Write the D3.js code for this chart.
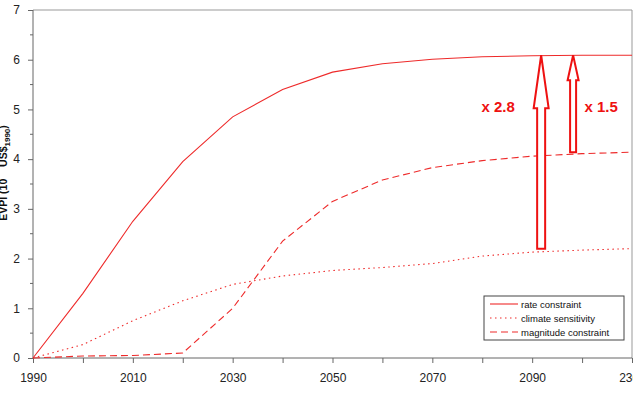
<!DOCTYPE html>
<html>
<head>
<meta charset="utf-8">
<script src="https://cdn.jsdelivr.net/npm/d3@7"></script>
<style>
  body { margin: 0; background: #fff; }
  svg { font-family: "Liberation Sans", Arial, sans-serif; }
</style>
</head>
<body>
<svg id="chart" width="633" height="395"></svg>
<script>
// categories on the x axis (note the jump to 2300 at the end)
const years = [1990, 2000, 2010, 2020, 2030, 2040, 2050, 2060, 2070, 2080, 2090, 2100, 2300];
const yearLabels = [1990, 2010, 2030, 2050, 2070, 2090, 2300];

const rateConstraint = [0, 1.3, 2.75, 3.95, 4.85, 5.4, 5.75, 5.92, 6.01, 6.06, 6.08, 6.09, 6.09];
const climateSensitivity = [0, 0.27, 0.75, 1.15, 1.48, 1.65, 1.76, 1.82, 1.9, 2.05, 2.13, 2.17, 2.2];
const magnitudeConstraint = [0, 0.04, 0.05, 0.1, 1.0, 2.35, 3.15, 3.58, 3.83, 3.97, 4.06, 4.11, 4.14];

const seriesNames = ["rate constraint", "climate sensitivity", "magnitude constraint"];
const yTicks = [0, 1, 2, 3, 4, 5, 6, 7];

// arrows: [from value, to value, label]
const arrows = [
    {from: 2.2, to: 6.09, label: "x 2.8"},
    {from: 4.14, to: 6.09, label: "x 1.5"}
];

const svg = d3.select("#chart");
const margin = {top: 10, right: 1, bottom: 37, left: 33};
const W = 633, H = 395;
const red = "#ee2a2a";

const x = d3.scalePoint()
    .domain(years)
    .range([margin.left, W - margin.right]);

const y = d3.scaleLinear()
    .domain([0, 7])
    .range([H - margin.bottom, margin.top]);

// plot frame (top and right)
svg.append("path")
    .attr("d", `M${margin.left},${margin.top}H${W - margin.right}V${H - margin.bottom}`)
    .attr("fill", "none")
    .attr("stroke", "#999")
    .attr("stroke-width", 1);

// y axis
const yAxis = svg.append("g")
    .attr("transform", `translate(${margin.left},0)`)
    .call(d3.axisLeft(y).tickValues(yTicks).tickFormat(d3.format("d")).tickSize(5).tickPadding(8));
yAxis.selectAll(".tick line").attr("stroke", "#666");
yAxis.select(".domain").attr("stroke", "#666").attr("d", `M0,${y(0)}V${y(7)}`);
yAxis.selectAll("text").attr("font-size", 12).attr("fill", "#222");

// minor y ticks
svg.append("g").selectAll("line")
    .data(d3.range(0.5, 7, 1))
    .join("line")
    .attr("x1", margin.left - 3).attr("x2", margin.left)
    .attr("y1", d => y(d)).attr("y2", d => y(d))
    .attr("stroke", "#666");

// x axis
const xAxis = svg.append("g")
    .attr("transform", `translate(0,${H - margin.bottom})`)
    .call(d3.axisBottom(x).tickSize(5).tickPadding(10)
        .tickFormat(d => yearLabels.includes(d) ? d : ""));
xAxis.selectAll(".tick line").attr("stroke", "#666");
xAxis.select(".domain").attr("stroke", "#666").attr("d", `M${margin.left},0H${W - margin.right}`);
xAxis.selectAll("text").attr("font-size", 12).attr("fill", "#222");

// y axis title (clipped at the left edge like the original)
svg.append("text")
    .attr("transform", "translate(7,173) rotate(-90)")
    .attr("text-anchor", "middle")
    .attr("font-size", 10.5)
    .attr("font-weight", "bold")
    .attr("fill", "#111")
    .html('EVPI (10<tspan dy="-8" font-size="8">12</tspan><tspan dy="8"> US$</tspan><tspan dy="3" font-size="8">1990</tspan><tspan dy="-3">)</tspan>');

// lines
const line = d3.line()
    .x((d, i) => x(years[i]))
    .y(d => y(d));

const dashes = [null, "1.5,3.5", "7,4"];
const allSeries = [rateConstraint, climateSensitivity, magnitudeConstraint];

svg.append("g").selectAll("path")
    .data(allSeries)
    .join("path")
    .attr("d", line)
    .attr("fill", "none")
    .attr("stroke", red)
    .attr("stroke-width", 1.1)
    .attr("stroke-dasharray", (d, i) => dashes[i]);

// block arrows
const step = x.step();
const arrowX = [x(2090) + 0.18 * step, x(2100) - 0.18 * step];
const arrowDims = [{shaft: 8, head: 15, headLen: 53}, {shaft: 6, head: 11, headLen: 25}];

arrows.forEach((a, i) => {
    const cx = arrowX[i];
    const s = arrowDims[i].shaft / 2, h = arrowDims[i].head / 2;
    const tip = y(a.to), base = y(a.from);
    const neck = tip + arrowDims[i].headLen;
    const pts = [
        [cx - s, base], [cx - s, neck], [cx - h, neck], [cx, tip],
        [cx + h, neck], [cx + s, neck], [cx + s, base]
    ];
    svg.append("path")
        .attr("d", d3.line()(pts) + "Z")
        .attr("fill", "#fff")
        .attr("stroke", "#ee1111")
        .attr("stroke-width", 2);
});

svg.append("text")
    .attr("x", arrowX[0] - 43).attr("y", 112)
    .attr("text-anchor", "middle")
    .attr("font-size", 15).attr("font-weight", "bold")
    .attr("fill", "#ee1111")
    .text(arrows[0].label);

svg.append("text")
    .attr("x", arrowX[1] + 28).attr("y", 112)
    .attr("text-anchor", "middle")
    .attr("font-size", 15).attr("font-weight", "bold")
    .attr("fill", "#ee1111")
    .text(arrows[1].label);

// legend
const legend = svg.append("g").attr("transform", "translate(484,296)");
legend.append("rect")
    .attr("width", 140).attr("height", 44)
    .attr("fill", "#fff").attr("stroke", "#444").attr("stroke-width", 1);

seriesNames.forEach((name, i) => {
    const ly = 8 + i * 14;
    legend.append("line")
        .attr("x1", 6).attr("x2", 34)
        .attr("y1", ly).attr("y2", ly)
        .attr("stroke", red)
        .attr("stroke-width", 1.1)
        .attr("stroke-dasharray", dashes[i]);
    legend.append("text")
        .attr("x", 37).attr("y", ly + 3.5)
        .attr("font-size", 9.5)
        .attr("fill", "#111")
        .text(name);
});
</script>
</body>
</html>
